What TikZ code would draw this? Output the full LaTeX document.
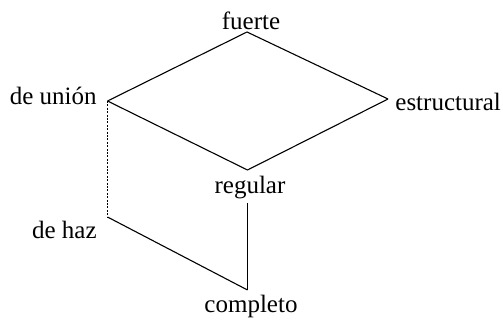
\documentclass[tikz,border=0pt]{standalone}
\usepackage{fontspec}
\setmainfont{Liberation Serif}
\begin{document}
\begin{tikzpicture}[
  x=0.5pt, y=-0.5pt,
  lbl/.style={inner sep=0.5pt, font=\fontsize{12.5}{15}\selectfont},
  edge/.style={line width=0.55pt},
  weak/.style={line width=0.55pt, dash pattern=on 1pt off 0.7pt}
]
\useasboundingbox (0,0) rectangle (503,320);
% vertices of the lattice
\coordinate (vf) at (247,32);
\coordinate (vu) at (107.5,101);
\coordinate (ve) at (388,99);
\coordinate (vr) at (247.5,170);
\coordinate (vh) at (107.5,217);
\coordinate (vc) at (247.5,290);
% labels
\node[lbl, anchor=base]      (fuerte)      at (251,30)  {fuerte};
\node[lbl, anchor=base east] (union)       at (98,105)  {de unión};
\node[lbl, anchor=base west] (estructural) at (394,111) {estructural};
\node[lbl, anchor=base]      (regular)     at (250,194) {regular};
\node[lbl, anchor=base east] (haz)         at (98,239)  {de haz};
\node[lbl, anchor=base]      (completo)    at (251,313) {completo};
% edges
\draw[edge] (vu) -- (vf) -- (ve);
\draw[edge] (vu) -- (vr) -- (ve);
\draw[weak] (vu) -- (vh);
\draw[edge] (vh) -- (vc);
\draw[edge] (regular.south -| vc) ++(0,2) -- (vc);
\end{tikzpicture}
\end{document}
